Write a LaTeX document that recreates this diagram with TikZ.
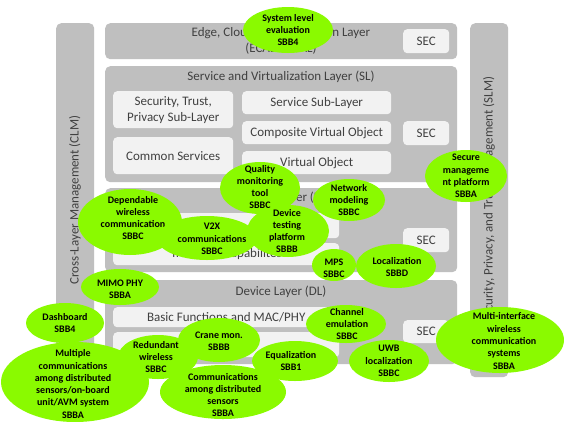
\documentclass[tikz,border=0pt]{standalone}
\usepackage{fontspec}
\setmainfont{Carlito}
\usetikzlibrary{shapes.geometric}

\definecolor{layergrey}{RGB}{191,191,191}
\definecolor{boxgrey}{RGB}{242,242,242}
\definecolor{inktext}{RGB}{64,64,64}
\definecolor{sbbgreen}{RGB}{138,250,0}

\tikzset{
  layer/.style={fill=layergrey, rounded corners=5pt, inner sep=0pt},
  subbox/.style={fill=boxgrey, rounded corners=4pt, inner sep=0pt},
  lbl/.style={text=inktext, font=\fontsize{13}{16}\selectfont, align=center, inner sep=0pt},
  sbbtext/.style={text=black, font=\bfseries\fontsize{10}{12.3}\selectfont, align=center, inner sep=0pt},
}

% rounded panel given by its top-left and bottom-right corners
\newcommand\panel[6]{%
  \node[#1, anchor=north west, minimum width={(#5-#3)*1pt}, minimum height={(#6-#4)*1pt}] (#2) at (#3,#4) {};}
% building-block bubble: name, ellipse centre, radii, text centre, text
\newcommand\sbb[8]{%
  \fill[sbbgreen] (#2,#3) ellipse [x radius=#4pt, y radius=#5pt];
  \node[sbbtext] (#1) at (#6,#7) {#8};}

\begin{document}
\begin{tikzpicture}[x=1pt, y=-1pt]
\fill[white] (0,0) rectangle (564,421);
\useasboundingbox (0,0) rectangle (564,421);

% management columns
\panel{layer}{clm}{56}{23}{94}{377}
\panel{layer}{slm}{470}{23}{508}{377}
\node[lbl, rotate=90] (clmtext) at (75,200) {Cross-Layer Management (CLM)};
\node[lbl, rotate=90] (slmtext) at (489,200) {Security, Privacy, and Trust Management (SLM)};

% layers
\panel{layer}{ecal}{105}{23}{457}{59}
\panel{layer}{sl}{105}{66}{457}{182}
\panel{layer}{nl}{105}{188}{457}{272}
\panel{layer}{dl}{105}{280}{457}{364}

\node[lbl] (ecaltext) at (281,41) {Edge, Cloud and Application Layer\\(ECAL or CAL)};
\node[lbl] (sltext) at (281,77) {Service and Virtualization Layer (SL)};
\node[lbl] (nltext) at (281,198) {Network Layer (NL)};
\node[lbl] (dltext) at (281,292) {Device Layer (DL)};

% service and virtualization sub-layers
\panel{subbox}{sectrust}{113}{91}{233}{128}
\panel{subbox}{common}{113}{137}{233}{174}
\panel{subbox}{servsub}{242}{91}{391}{114}
\panel{subbox}{composite}{242}{121}{391}{144}
\panel{subbox}{vobj}{242}{151}{391}{174}
\node[lbl] at (sectrust.center) {Security, Trust,\\Privacy Sub-Layer};
\node[lbl] at (common.center) {Common Services};
\node[lbl] at (servsub.center) {Service Sub-Layer};
\node[lbl] at (composite.center) {Composite Virtual Object};
\node[lbl] at (vobj.center) {Virtual Object};

% network and device sub-layers
\panel{subbox}{nlone}{113}{213}{339}{238}
\panel{subbox}{nltwo}{113}{243}{339}{265}
\node[lbl] at (nltwo.center) {Transport Capabilites};
\panel{subbox}{dlone}{113}{307}{339}{327}
\panel{subbox}{dltwo}{113}{332}{339}{357}
\node[lbl] at (dlone.center) {Basic Functions and MAC/PHY};

% security blocks
\panel{subbox}{sececal}{403}{29}{449}{53}
\panel{subbox}{secsl}{403}{121}{449}{145}
\panel{subbox}{secnl}{403}{228}{449}{252}
\panel{subbox}{secdl}{403}{320}{449}{343}
\foreach \s in {sececal,secsl,secnl,secdl} \node[lbl] at (\s.center) {SEC};

% building blocks
\sbb{syseval}{288}{30}{45}{23}{288}{30}{System level\\evaluation\\SBB4}
\sbb{quality}{260}{188}{40}{26}{260}{187}{Quality\\monitoring\\tool\\SBBC}
\sbb{netmodel}{349}{200}{36}{21}{349}{200}{Network\\modeling\\SBBC}
\sbb{securemgmt}{466}{176}{41}{26}{466}{176}{Secure\\manageme\\nt platform\\SBBA}
\sbb{dependable}{130}{222}{52}{33}{133}{218}{Dependable\\wireless\\communication\\SBBC}
\sbb{vtwox}{207}{238}{50}{22}{212}{239}{V2X\\communications\\SBBC}
\sbb{devtest}{288}{231}{41}{26}{287}{231}{Device\\testing\\platform\\SBBB}
\sbb{mps}{334}{265}{22}{16}{334}{268}{MPS\\SBBC}
\sbb{localization}{396}{266}{40}{22}{397}{267}{Localization\\SBBD}
\sbb{mimo}{120}{287}{39}{18}{120}{289}{MIMO PHY\\SBBA}
\sbb{dashboard}{65}{323}{39}{20}{65}{323}{Dashboard\\SBB4}
\sbb{multiple}{75}{382}{74}{40}{73}{384}{Multiple\\communications\\among distributed\\sensors/on-board\\unit/AVM system\\SBBA}
\sbb{redundant}{158}{357}{40}{22}{156}{357}{Redundant\\wireless\\SBBC}
\sbb{crane}{219}{340}{41}{22}{219}{341}{Crane mon.\\SBBB}
\sbb{commamong}{223}{392}{63}{27}{223}{395}{Communications\\among distributed\\sensors\\SBBA}
\sbb{equalization}{295}{361}{43}{20}{291}{361}{Equalization\\SBB1}
\sbb{channel}{346}{324}{40}{19}{347}{324}{Channel\\emulation\\SBBC}
\sbb{uwb}{389}{361}{40}{21}{389}{361}{UWB\\localization\\SBBC}
\sbb{multiif}{500}{340}{64}{33}{504}{341}{Multi-interface\\wireless\\communication\\systems\\SBBA}
\end{tikzpicture}
\end{document}
